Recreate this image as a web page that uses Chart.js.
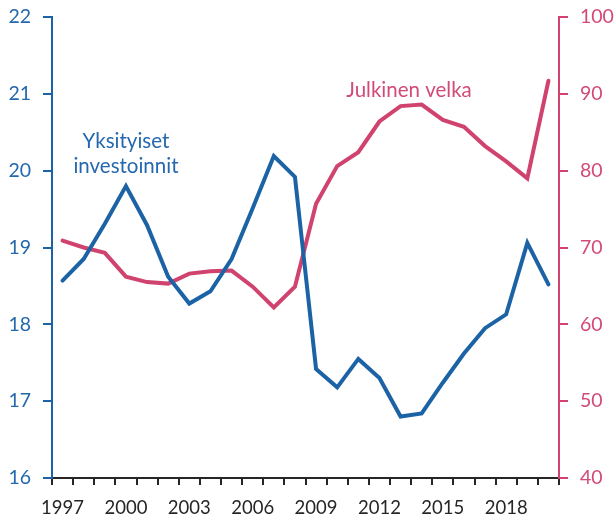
<!DOCTYPE html>
<html>
<head>
<meta charset="utf-8">
<script src="https://cdn.jsdelivr.net/npm/chart.js@4/dist/chart.umd.min.js"></script>
<style>
  html, body { margin: 0; padding: 0; background: #fff; }
  #wrap { width: 615px; height: 521px; position: relative; }
</style>
</head>
<body>
<div id="wrap"><canvas id="c" width="615" height="521"></canvas></div>
<script>
const years = ["1997","1998","1999","2000","2001","2002","2003","2004","2005","2006","2007","2008","2009","2010","2011","2012","2013","2014","2015","2016","2017","2018","2019","2020"];
const privateInvestment = [18.57,18.85,19.31,19.80,19.29,18.62,18.27,18.43,18.85,19.51,20.19,19.92,17.42,17.18,17.55,17.30,16.80,16.84,17.24,17.62,17.95,18.13,19.06,18.52];
const publicDebt = [70.9,70.0,69.3,66.2,65.5,65.3,66.6,66.9,67.0,64.9,62.2,64.9,75.7,80.6,82.4,86.4,88.4,88.6,86.6,85.7,83.2,81.2,79.0,91.7];
const leftTicks = [16,17,18,19,20,21,22];
const rightTicks = [40,50,60,70,80,90,100];
const labelEvery = 3;

const BLUE = "#1c63a6";
const PINK = "#d0436f";
const BLUE_TXT = "#2468ad";
const PINK_TXT = "#d24a75";
const FONT = "Lato";

const notes = [
  { text: "Yksityiset", x: 3, y: 20.38, axis: "y", color: BLUE_TXT },
  { text: "investoinnit", x: 3, y: 20.05, axis: "y", color: BLUE_TXT },
  { text: "Julkinen velka", x: 16.4, y: 90.5, axis: "y1", color: PINK_TXT }
];

const notePlugin = {
  id: "notes",
  afterDatasetsDraw(chart) {
    const ctx = chart.ctx;
    const xs = chart.scales.x;
    ctx.save();
    ctx.font = "20.5px " + FONT;
    ctx.textAlign = "center";
    ctx.textBaseline = "middle";
    notes.forEach(n => {
      const i0 = Math.floor(n.x), f = n.x - i0;
      const px = xs.getPixelForValue(i0) + f * (xs.getPixelForValue(i0 + 1) - xs.getPixelForValue(i0));
      const py = chart.scales[n.axis].getPixelForValue(n.y);
      ctx.fillStyle = n.color;
      ctx.fillText(n.text, px, py);
    });
    ctx.restore();
  }
};

new Chart(document.getElementById("c"), {
  type: "line",
  data: {
    labels: years,
    datasets: [
      { data: privateInvestment, yAxisID: "y", borderColor: BLUE, borderWidth: 4, pointRadius: 0, tension: 0, fill: false, borderCapStyle: "round", borderJoinStyle: "miter" },
      { data: publicDebt, yAxisID: "y1", borderColor: PINK, borderWidth: 4, pointRadius: 0, tension: 0, fill: false, borderCapStyle: "round", borderJoinStyle: "miter" }
    ]
  },
  options: {
    responsive: false,
    animation: false,
    devicePixelRatio: 1,
    layout: { padding: { top: 17, left: 0, right: 0, bottom: 0 } },
    plugins: { legend: { display: false }, tooltip: { enabled: false } },
    scales: {
      x: {
        offset: true,
        grid: { display: true, drawOnChartArea: false, offset: true, tickLength: 7, color: "#262626", lineWidth: 2 },
        border: { display: true, color: "#262626", width: 2 },
        ticks: {
          autoSkip: false, maxRotation: 0, color: "#262626", padding: 12,
          font: { family: FONT, size: 18.5 },
          callback: (v, i) => (i % labelEvery === 0 ? years[i] : "")
        },
        afterFit: s => { s.height = 43; s.paddingLeft = 0; s.paddingRight = 0; }
      },
      y: {
        position: "left", min: 16, max: 22,
        afterBuildTicks: s => { s.ticks = leftTicks.map(v => ({ value: v })); },
        grid: { display: true, drawOnChartArea: false, tickLength: 9, color: BLUE, lineWidth: 2 },
        border: { display: true, color: BLUE, width: 2 },
        ticks: { color: BLUE_TXT, padding: 12, font: { family: FONT, size: 19.5 } },
        afterFit: s => { s.width = 52; s.paddingTop = 0; s.paddingBottom = 0; }
      },
      y1: {
        position: "right", min: 40, max: 100,
        afterBuildTicks: s => { s.ticks = rightTicks.map(v => ({ value: v })); },
        grid: { display: true, drawOnChartArea: false, tickLength: 9, color: PINK, lineWidth: 2 },
        border: { display: true, color: PINK, width: 2 },
        ticks: { color: PINK_TXT, padding: 12, font: { family: FONT, size: 19.5 } },
        afterFit: s => { s.width = 56; s.paddingTop = 0; s.paddingBottom = 0; }
      }
    }
  },
  plugins: [notePlugin]
});
</script>
</body>
</html>
